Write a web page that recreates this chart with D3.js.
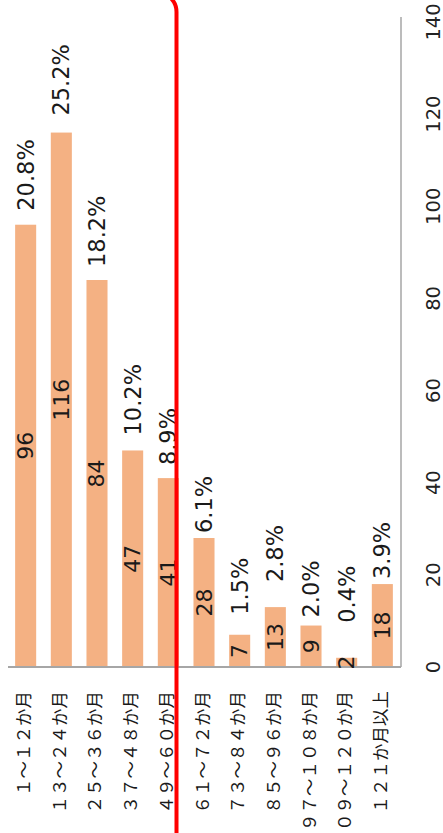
<!DOCTYPE html>
<html>
<head>
<meta charset="utf-8">
<script src="https://cdn.jsdelivr.net/npm/d3@7"></script>
<style>
  body { margin: 0; background: #fff; }
  svg { display: block; }
</style>
</head>
<body>
<svg id="chart" width="443" height="833"></svg>
<script>
// data
const categories = ["１～１２か月", "１３～２４か月", "２５～３６か月", "３７～４８か月", "４９～６０か月",
  "６１～７２か月", "７３～８４か月", "８５～９６か月", "９７～１０８か月", "１０９～１２０か月", "１２１か月以上"];
const counts = [96, 116, 84, 47, 41, 28, 7, 13, 9, 2, 18];
const percents = ["20.8%", "25.2%", "18.2%", "10.2%", "8.9%", "6.1%", "1.5%", "2.8%", "2.0%", "0.4%", "3.9%"];
const tickValues = [0, 20, 40, 60, 80, 100, 120, 140];

// gap between bar end and its percent label (labels were nudged by hand in the original)
const pctGap = [14, 17, 13, 15, 13, 5, 20, 25, 8, 35, 5];

const svg = d3.select("#chart");
const base = 667;

var x = d3.scaleBand().domain(categories).range([8, 400]).paddingInner(0.41).paddingOuter(0.2);
var y = d3.scaleLinear().domain([0, 140]).range([base, 22]);

// bars
svg.selectAll(".bar").data(counts).enter().append("rect")
  .attr("class", "bar")
  .attr("x", (d, i) => x(categories[i]))
  .attr("width", x.bandwidth())
  .attr("y", d => y(d))
  .attr("height", d => y(0) - y(d))
  .attr("fill", "#f4b183");

// baseline
svg.append("line")
  .attr("x1", 8).attr("x2", 401)
  .attr("y1", base).attr("y2", base)
  .attr("stroke", "#a6a6a6").attr("stroke-width", 2);

// value axis on the right
const yAxis = svg.append("g")
  .attr("transform", "translate(401,0)")
  .call(d3.axisRight(y).tickValues(tickValues).tickSize(0).tickPadding(0));
yAxis.select(".domain").attr("stroke", "#a6a6a6").attr("stroke-width", 1.5)
  .attr("d", "M0," + (y(140) - 5) + "V" + base);
yAxis.selectAll("text")
  .attr("x", 0).attr("y", 0).attr("dy", null)
  .attr("transform", d => "translate(32," + y(d) + ") rotate(-90)")
  .attr("text-anchor", "middle")
  .attr("dominant-baseline", "central")
  .attr("font-family", "DejaVu Sans")
  .attr("font-size", 19.5)
  .attr("fill", "#222");
yAxis.selectAll(".tick").attr("transform", null);

// count labels, middle of each bar
svg.selectAll(".cnt").data(counts).enter().append("text")
  .attr("class", "cnt")
  .attr("transform", (d, i) => "translate(" + (x(categories[i]) + x.bandwidth() / 2) + "," + ((y(d) + y(0)) / 2) + ") rotate(-90)")
  .attr("text-anchor", "middle")
  .attr("dominant-baseline", "central")
  .attr("font-family", "DejaVu Sans")
  .attr("font-size", 22)
  .attr("fill", "#1a1a1a")
  .text(d => d);

// percent labels above bars
svg.selectAll(".pct").data(percents).enter().append("text")
  .attr("class", "pct")
  .attr("transform", (d, i) => "translate(" + (x(categories[i]) + x.bandwidth() / 2) + "," + (y(counts[i]) - pctGap[i]) + ") rotate(-90)")
  .attr("text-anchor", "start")
  .attr("dominant-baseline", "central")
  .attr("font-family", "DejaVu Sans")
  .attr("font-size", 22.5)
  .attr("fill", "#1a1a1a")
  .text(d => d);

// category labels below the baseline
svg.selectAll(".cat").data(categories).enter().append("text")
  .attr("class", "cat")
  .attr("transform", d => "translate(" + (x(d) + x.bandwidth() / 2 - 3) + ",691) rotate(-90)")
  .attr("text-anchor", "end")
  .attr("dominant-baseline", "central")
  .attr("font-family", "Noto Sans CJK JP")
  .attr("font-size", 17.5)
  .attr("fill", "#1a1a1a")
  .text(d => d);

// red highlight box around the first five groups
svg.append("rect")
  .attr("x", -30).attr("y", -8)
  .attr("width", 206.5).attr("height", 880)
  .attr("rx", 20)
  .attr("fill", "none")
  .attr("stroke", "#ff0000")
  .attr("stroke-width", 4);
</script>
</body>
</html>
